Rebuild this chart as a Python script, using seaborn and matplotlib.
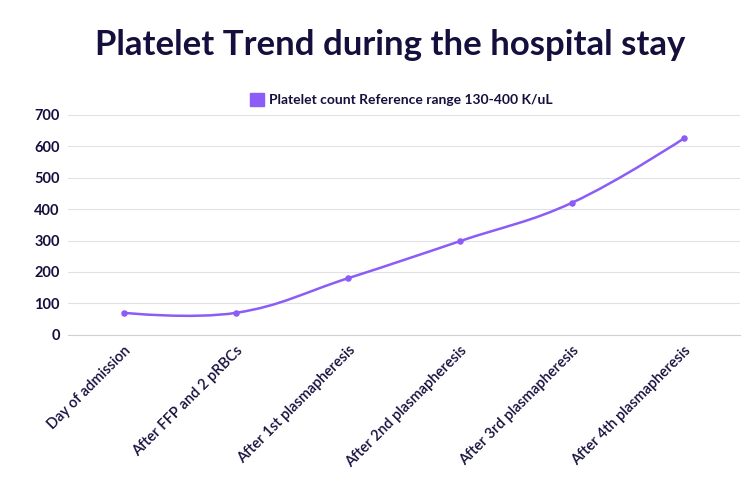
import numpy as np
import pandas as pd
import matplotlib
matplotlib.use("Agg")
import matplotlib.pyplot as plt
import seaborn as sns
from matplotlib.path import Path
from matplotlib.patches import PathPatch, Patch

categories = ["Day of admission", "After FFP and 2 pRBCs", "After 1st plasmapheresis",
              "After 2nd plasmapheresis", "After 3rd plasmapheresis", "After 4th plasmapheresis"]
platelets = [70, 70, 180, 298, 420, 625]
series_name = "Platelet count Reference range 130-400 K/uL"
yticks = [0, 100, 200, 300, 400, 500, 600, 700]

purple = "#8c5cf6"
navy = "#140f3c"

sns.set_theme(style="white")
plt.rcParams["font.family"] = ["Lato", "DejaVu Sans"]

df = pd.DataFrame({"stage": categories, "platelets": platelets})
fig = plt.figure(figsize=(7.5, 4.86), dpi=100)
ax = fig.add_axes([0.0907, 0.311, 0.896, 0.453])

# points via seaborn
sns.scatterplot(data=df, x="stage", y="platelets", ax=ax, color=purple, s=22,
                edgecolor=purple, linewidth=0, zorder=3, legend=False)

# smooth spline (tension 0.4) through the data
xs = np.arange(len(platelets), dtype=float)
ys = np.array(platelets, dtype=float)
sx, sy = 111.8, 220 / 700  # approx px per unit for distance weighting
t = 0.4
cps = []
for i in range(len(xs)):
    if i == 0 or i == len(xs) - 1:
        cps.append(((xs[i], ys[i]), (xs[i], ys[i])))
        continue
    px, py = xs[i - 1], ys[i - 1]
    nx, ny = xs[i + 1], ys[i + 1]
    d01 = np.hypot((xs[i] - px) * sx, (ys[i] - py) * sy)
    d12 = np.hypot((nx - xs[i]) * sx, (ny - ys[i]) * sy)
    fa = t * d01 / (d01 + d12)
    fb = t * d12 / (d01 + d12)
    c1 = (xs[i] - fa * (nx - px), ys[i] - fa * (ny - py))
    c2 = (xs[i] + fb * (nx - px), ys[i] + fb * (ny - py))
    cps.append((c1, c2))
verts = [(xs[0], ys[0])]
codes = [Path.MOVETO]
for i in range(1, len(xs)):
    verts += [cps[i - 1][1], cps[i][0], (xs[i], ys[i])]
    codes += [Path.CURVE4] * 3
ax.add_patch(PathPatch(Path(verts, codes), facecolor="none", edgecolor=purple, lw=1.8, zorder=2))

ax.set_xlim(-0.5, len(categories) - 0.5)
ax.set_ylim(0, 700)
ax.set_yticks(yticks)
ax.set_yticklabels([str(v) for v in yticks], fontsize=10.5, fontweight="bold", color=navy)
ax.set_xticks(range(len(categories)))
ax.set_xticklabels(categories, rotation=45, ha="right", rotation_mode="anchor",
                   fontsize=10.5, color=navy, fontweight="semibold")
ax.tick_params(axis="both", length=0, pad=6)
ax.set_xlabel("")
ax.set_ylabel("")
ax.grid(axis="y", color="#e2e2e6", lw=0.8)
ax.set_axisbelow(True)
for s in ["top", "right", "left"]:
    ax.spines[s].set_visible(False)
ax.spines["bottom"].set_color("#cfcfd4")
ax.spines["bottom"].set_linewidth(0.8)

fig.text(0.52, 0.907, "Platelet Trend during the hospital stay", ha="center", va="center",
         fontsize=25, fontweight="bold", color=navy)
leg = fig.legend(handles=[Patch(facecolor=purple, edgecolor=purple, label=series_name)],
                 loc="center", bbox_to_anchor=(0.535, 0.795), frameon=False,
                 handlelength=1.0, handleheight=1.0, handletextpad=0.4,
                 prop={"size": 10, "weight": "bold"})
for txt in leg.get_texts():
    txt.set_color(navy)

fig.savefig("out.png", dpi=100, facecolor="white")
